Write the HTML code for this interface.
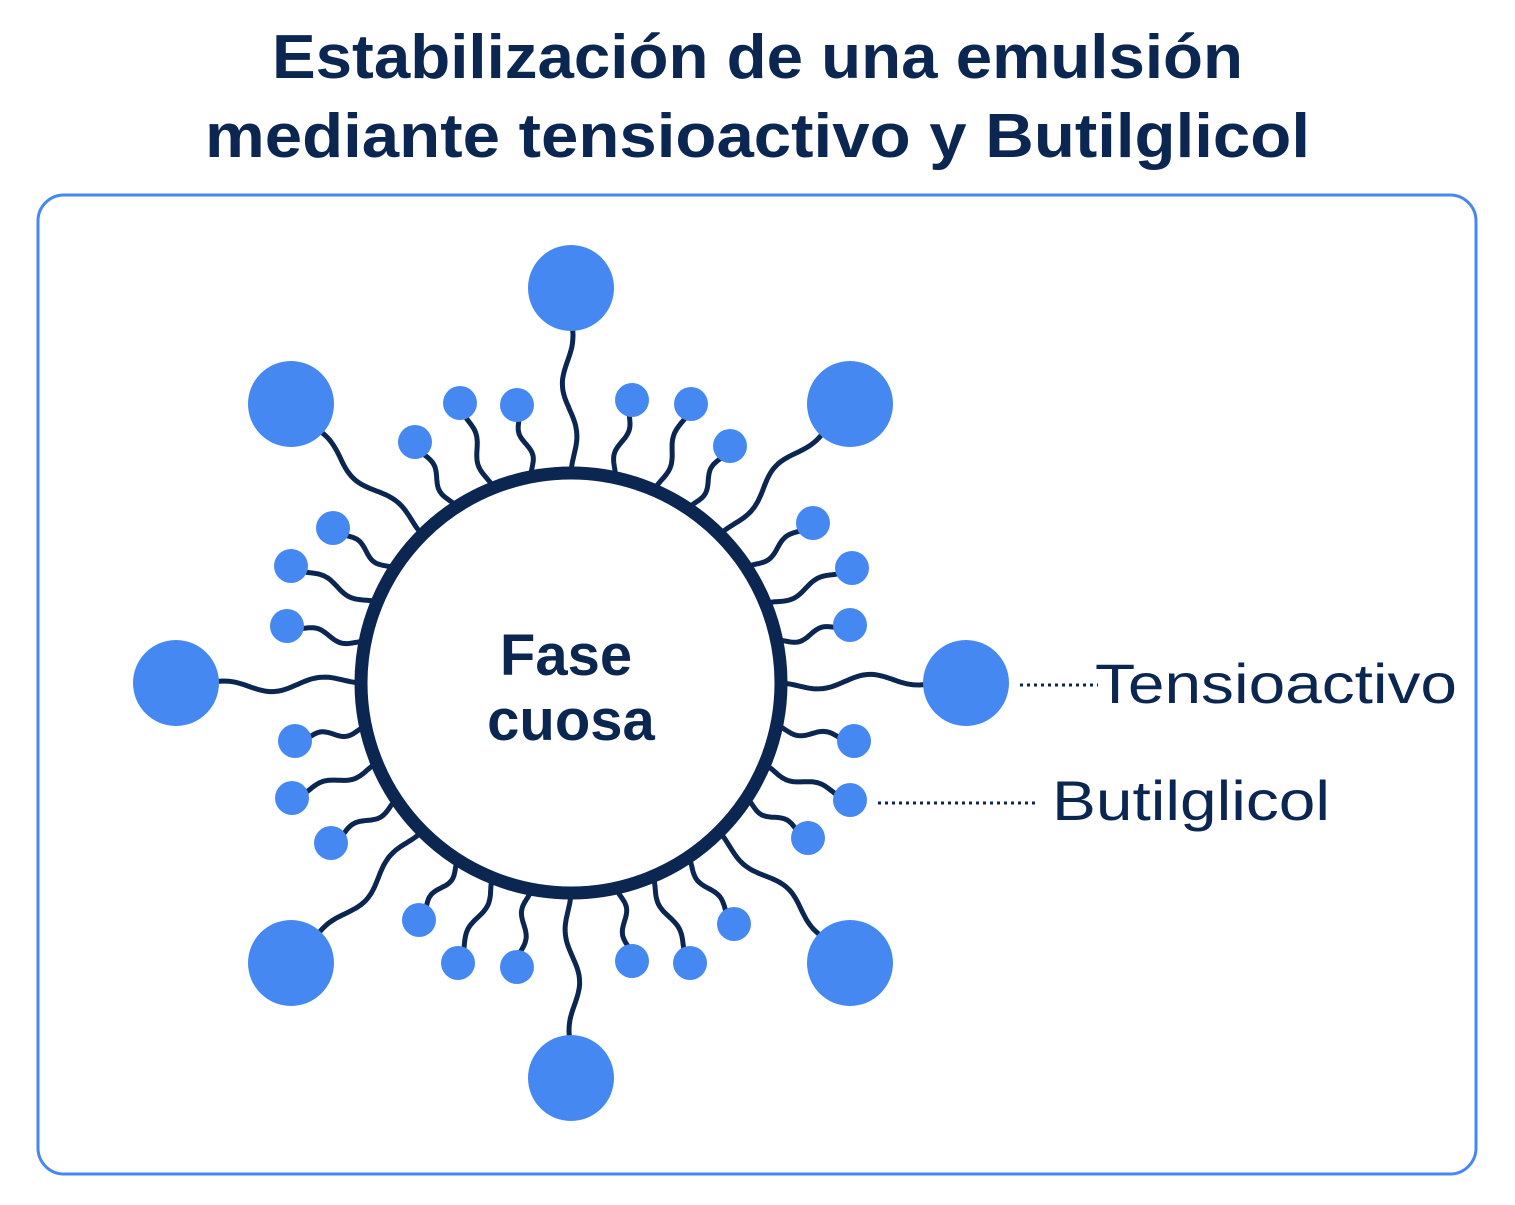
<!DOCTYPE html>
<html><head><meta charset="utf-8">
<style>
html,body{margin:0;padding:0;background:#fff;}
body{width:1515px;height:1200px;overflow:hidden;font-family:"Liberation Sans",sans-serif;}
</style></head>
<body>
<svg id="s" width="1515" height="1200" viewBox="0 0 1515 1200" xmlns="http://www.w3.org/2000/svg">
<text x="272" y="78" textLength="971" lengthAdjust="spacingAndGlyphs" font-family="Liberation Sans, sans-serif" font-weight="bold" font-size="62" fill="#0b2650">Estabilización de una emulsión</text>
<text x="205" y="157" textLength="1105" lengthAdjust="spacingAndGlyphs" font-family="Liberation Sans, sans-serif" font-weight="bold" font-size="62" fill="#0b2650">mediante tensioactivo y Butilglicol</text>
<rect x="38" y="195" width="1438" height="979" rx="26" fill="none" stroke="#4688f1" stroke-width="3"/>
<g id="tails" fill="none" stroke="#0b2650" stroke-width="5" stroke-linecap="round"></g>
<circle cx="571" cy="683" r="210" fill="#fff" stroke="#0b2650" stroke-width="13"/>
<g id="heads" fill="#4688f1"></g>
<text x="566" y="675" text-anchor="middle" font-family="Liberation Sans, sans-serif" font-weight="bold" font-size="58" fill="#0b2650">Fase</text>
<text x="571" y="740" text-anchor="middle" font-family="Liberation Sans, sans-serif" font-weight="bold" font-size="58" fill="#0b2650">cuosa</text>
<line x1="1020" y1="685" x2="1098" y2="685" stroke="#0b2650" stroke-width="3" stroke-dasharray="3 4"/>
<line x1="878" y1="803" x2="1036" y2="803" stroke="#0b2650" stroke-width="3" stroke-dasharray="3 4"/>
<text x="1095" y="703" textLength="362" lengthAdjust="spacingAndGlyphs" font-family="Liberation Sans, sans-serif" font-size="56" fill="#0b2650">Tensioactivo</text>
<text x="1052" y="820" textLength="278" lengthAdjust="spacingAndGlyphs" font-family="Liberation Sans, sans-serif" font-size="56" fill="#0b2650">Butilglicol</text>
</svg>
<script>
(function(){
var cx=571,cy=683,R=208;
var big=[[571,288],[291,404],[850,404],[176,683],[966,683],[291,963],[850,963],[571,1078]];
var small=[[460,403],[517,405],[632,400],[691,404],[415,442],[730,446],[333,528],[813,523],[291,566],[852,568],[287,626],[850,625],[295,741],[854,741],[292,798],[850,800],[331,843],[808,838],[419,920],[734,924],[458,963],[517,967],[632,961],[690,963]];
var tails=document.getElementById('tails'),heads=document.getElementById('heads');
var NS='http://www.w3.org/2000/svg';
function wave(h,n,A,r){
  var a=Math.atan2(h[1]-cy,h[0]-cx);
  var sx=cx+R*Math.cos(a),sy=cy+R*Math.sin(a);
  var dx=h[0]-sx,dy=h[1]-sy,L=Math.hypot(dx,dy);
  var px=-dy/L,py=dx/L,d='';
  for(var i=0;i<=60;i++){var t=i/60;var o=A*Math.sin(2*Math.PI*n*t)*Math.sin(Math.PI*Math.min(1,t*1.2));
    var x=sx+dx*t+px*o,y=sy+dy*t+py*o;d+=(i?'L':'M')+x.toFixed(1)+' '+y.toFixed(1);}
  var p=document.createElementNS(NS,'path');p.setAttribute('d',d);tails.appendChild(p);
  var c=document.createElementNS(NS,'circle');c.setAttribute('cx',h[0]);c.setAttribute('cy',h[1]);c.setAttribute('r',r);heads.appendChild(c);
}
big.forEach(function(h){wave(h,1.5,9,43);});
small.forEach(function(h,i){wave(h,1,(i%2?7:-7),17);});
})();
</script>
</body></html>
